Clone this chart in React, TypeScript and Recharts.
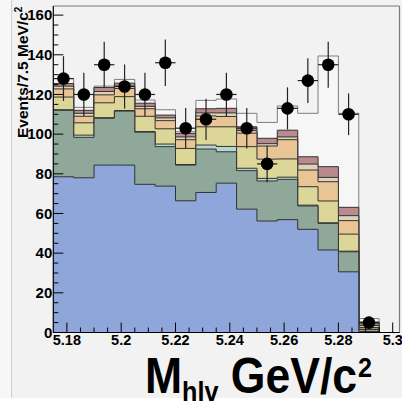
import { ComposedChart, Area, Scatter, ErrorBar, XAxis, YAxis, ReferenceLine } from "recharts"

// bin lower edges (7.5 MeV bins)
const binLow = [5.175, 5.1825, 5.19, 5.1975, 5.205, 5.2125, 5.22, 5.2275, 5.235, 5.2425, 5.25, 5.2575, 5.265, 5.2725, 5.28, 5.2875, 5.295]
const binEnd = 5.3025
const halfBin = 0.00375

// top edge of each stacked component, per bin
const blueTop = [78.5, 78, 84.4, 84.4, 74.7, 73.8, 66.4, 70.6, 75.3, 62.2, 56.2, 56.9, 52, 41.6, 30.6, 0.5, 0]
const greenTop = [112, 98.4, 108, 111.6, 101, 93.7, 84.4, 92.5, 91.1, 81.6, 76.4, 77.2, 63.8, 55, 40.7, 1.5, 0]
const cyanTop = [112.3, 99.5, 108.3, 111.9, 101.3, 95, 84.7, 94.5, 93.8, 82.8, 77.7, 78.3, 64.2, 55.3, 41, 1.7, 0]
const yellowTop = [118.7, 105.7, 115.8, 118.9, 109, 102.7, 92.8, 103.7, 103.7, 93.7, 87.4, 87.5, 73.5, 66.3, 49.6, 2.5, 0]
const orangeTop = [122.8, 109, 119.8, 123, 112.8, 106.8, 97.2, 109.2, 108.9, 100.5, 94, 97.2, 81.9, 76, 56.4, 3.5, 0]
const beigeTop = [124.2, 110.5, 121.5, 124.2, 114, 108.2, 98.6, 110.7, 110.7, 101.8, 95.2, 98.6, 84.9, 78.2, 58.9, 4.3, 0]
const mauveTop = [125.5, 112, 123.5, 125.7, 115.6, 109.6, 100.4, 112.8, 113, 103.7, 97.9, 102, 88.6, 83.6, 63.1, 5.3, 0]
const whiteTop = [128, 113.5, 124.2, 127.6, 117.2, 112.3, 101.2, 117, 117.7, 110.5, 105.9, 114.2, 110.5, 139.4, 110.5, 7, 0]

// data points and their vertical errors
const dataCounts = [128, 120, 135, 124, 120, 136, 103, 107.5, 120, 103, 85, 113, 127, 135, 110, 5]
const dataErr = [11.3, 11, 11.6, 11.1, 11, 11.7, 10.2, 10.4, 11, 10.2, 9.2, 10.6, 11.3, 11.6, 10.5, 2.2]

const xMajor = [5.18, 5.2, 5.22, 5.24, 5.26, 5.28, 5.3]
const xMinor = [5.185, 5.19, 5.195, 5.205, 5.21, 5.215, 5.225, 5.23, 5.235, 5.245, 5.25, 5.255, 5.265, 5.27, 5.275, 5.285, 5.29, 5.295]
const yMajor = [0, 20, 40, 60, 80, 100, 120, 140, 160]
const yMinor = [5, 10, 15, 25, 30, 35, 45, 50, 55, 65, 70, 75, 85, 90, 95, 105, 110, 115, 125, 130, 135, 145, 150, 155]

const X_MIN = 5.175
const Y_MAX = 164.6
const FONT = "'Liberation Sans', Arial, Helvetica, sans-serif"

const layers = [
  { key: "white", fill: "#f6f6f6", stroke: "#7d7d7d" },
  { key: "mauve", fill: "#b98a8e", stroke: "#333" },
  { key: "beige", fill: "#dcd4ba", stroke: "#333" },
  { key: "orange", fill: "#e9c494", stroke: "#333" },
  { key: "yellow", fill: "#dcd698", stroke: "#333" },
  { key: "cyan", fill: "#b6d7cd", stroke: "#333" },
  { key: "green", fill: "#8fa89a", stroke: "#333" },
  { key: "blue", fill: "#8ea6d9", stroke: "#333" },
]

const rows = binLow.map((x, i) => ({
  x,
  blue: blueTop[i],
  green: greenTop[i],
  cyan: cyanTop[i],
  yellow: yellowTop[i],
  orange: orangeTop[i],
  beige: beigeTop[i],
  mauve: mauveTop[i],
  white: whiteTop[i],
}))
rows.push({ ...rows[rows.length - 1], x: binEnd })

const points = dataCounts.map((y, i) => ({ x: binLow[i] + halfBin, y, ey: dataErr[i], ex: halfBin }))

const isIn = (arr: number[], v: number) => arr.some(a => Math.abs(a - v) < 1e-6)

function XTick(props: any) {
  const { x, y, payload } = props
  const v = payload.value
  const major = isIn(xMajor, v)
  return (
    <g>
      <line x1={x} x2={x} y1={y} y2={y - (major ? 10 : 5)} stroke="#000" strokeWidth={1} />
      {major && (
        <text x={x} y={y + 12.3} textAnchor="middle" fontFamily={FONT} fontWeight="bold" fontSize={14.5} fill="#000">
          {String(v)}
        </text>
      )}
    </g>
  )
}

function YTick(props: any) {
  const { x, y, payload } = props
  const v = payload.value
  const major = isIn(yMajor, v)
  return (
    <g>
      <line x1={x} x2={x + (major ? 10 : 5)} y1={y} y2={y} stroke="#000" strokeWidth={1} />
      {major && (
        <text x={x - 1} y={y + 5.3} textAnchor="end" fontFamily={FONT} fontWeight="bold" fontSize={15} fill="#000">
          {v}
        </text>
      )}
    </g>
  )
}

function Dot(props: any) {
  const { cx, cy } = props
  if (cx == null || cy == null) return null
  return <circle cx={cx} cy={cy} r={6.3} fill="#000" />
}

const W = 402
const H = 398

export default function App() {
  return (
    <div style={{ position: "absolute", left: 0, top: 0, width: 402, height: 407, background: "#fff", overflow: "hidden" }}>
      <div style={{ position: "absolute", left: 0, top: 0, width: 11, height: H, background: "#f7f7f7", borderRight: "1px solid #cfcfcf" }} />
      <div style={{ position: "absolute", left: 12, top: 0, width: 390, height: H, background: "#f2f2f2" }} />

      {/* histograms and data */}
      <div style={{ position: "absolute", left: 0, top: 0 }}>
        <ComposedChart width={W} height={H} data={rows} margin={{ top: 6, right: 2.5, bottom: 65.5, left: 53.3 }}>
          <XAxis dataKey="x" type="number" domain={[X_MIN, binEnd]} allowDataOverflow hide />
          <YAxis type="number" domain={[0, Y_MAX]} allowDataOverflow hide />
          {layers.map(l => (
            <Area
              key={l.key}
              type="stepAfter"
              dataKey={l.key}
              fill={l.fill}
              fillOpacity={1}
              stroke={l.stroke}
              strokeWidth={1}
              dot={false}
              activeDot={false}
              isAnimationActive={false}
            />
          ))}
          <Scatter data={points} dataKey="y" shape={<Dot />} isAnimationActive={false}>
            <ErrorBar dataKey="ey" direction="y" width={0} stroke="#222" strokeWidth={1.2} />
            <ErrorBar dataKey="ex" direction="x" width={0} stroke="#222" strokeWidth={1.2} />
          </Scatter>
        </ComposedChart>
      </div>

      {/* frame, axes and ticks drawn on top */}
      <div style={{ position: "absolute", left: 0, top: 0 }}>
        <ComposedChart width={W} height={H} data={rows} margin={{ top: 6, right: 2.5, bottom: 35.5, left: 0 }}>
          <ReferenceLine x={binEnd} stroke="#7a7a7a" strokeWidth={1.2} />
          <ReferenceLine y={Y_MAX} stroke="#7a7a7a" strokeWidth={1.2} />
          <XAxis
            dataKey="x"
            type="number"
            domain={[X_MIN, binEnd]}
            allowDataOverflow
            ticks={[...xMajor, ...xMinor]}
            interval={0}
            tick={<XTick />}
            tickLine={false}
            tickSize={0}
            tickMargin={0}
            height={30}
            axisLine={{ stroke: "#000", strokeWidth: 1.2 }}
          />
          <YAxis
            type="number"
            domain={[0, Y_MAX]}
            allowDataOverflow
            ticks={[...yMajor, ...yMinor]}
            interval={0}
            tick={<YTick />}
            tickLine={false}
            tickSize={0}
            tickMargin={0}
            width={53.3}
            axisLine={{ stroke: "#000", strokeWidth: 1.2 }}
          />
        </ComposedChart>
      </div>

      <svg width={402} height={407} style={{ position: "absolute", left: 0, top: 0, pointerEvents: "none" }}>
        <text transform="translate(27.5,138) rotate(-90)" fontFamily={FONT} fontWeight="bold" fontSize={15.5} fill="#000">
          Events/7.5 MeV/c<tspan dy={-6} fontSize={10}>2</tspan>
        </text>
        <g transform="translate(145,393) scale(0.9,1)">
          <text x={0} y={0} fontFamily={FONT} fontWeight="bold" fontSize={49.5} fill="#000">
            M<tspan fontSize={28} dy={8}>hlv</tspan>
            <tspan fontSize={49.5} dy={-8}> GeV/c</tspan>
            <tspan fontSize={28} dy={-16} dx={1}>2</tspan>
          </text>
        </g>
      </svg>
    </div>
  )
}
